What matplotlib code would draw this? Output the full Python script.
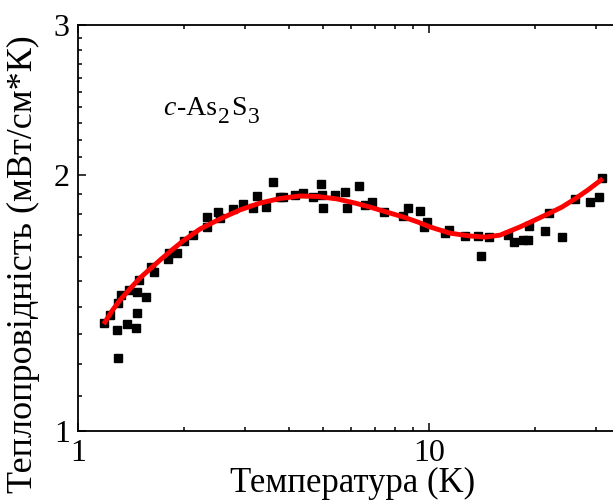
import matplotlib
matplotlib.use("Agg")
import matplotlib.pyplot as plt
from matplotlib.ticker import FixedLocator, FixedFormatter, MultipleLocator, NullFormatter, LogLocator

plt.rcParams["font.family"] = ["Liberation Serif", "DejaVu Serif"]

# measured points: temperature (K), thermal conductivity (mW/cm*K)
temp = [1.188, 1.233, 1.289, 1.303, 1.303, 1.323, 1.376, 1.400, 1.463, 1.475,
        1.475, 1.495, 1.562, 1.646, 1.611, 1.808, 1.820, 1.919, 2.004, 2.131,
        2.326, 2.335, 2.500, 2.539, 2.770, 2.958, 3.146, 3.243, 3.425, 3.587,
        3.763, 3.830, 4.151, 4.384, 4.663, 4.924, 4.947, 4.979, 5.398, 5.764,
        5.829, 6.318, 6.571, 6.894, 7.444, 8.417, 8.697, 9.427, 9.889, 9.697,
        11.40, 11.11, 12.66, 13.82, 14.85, 14.04, 16.83, 17.47, 18.57, 19.18,
        19.31, 21.41, 21.98, 23.88, 26.06, 28.75, 30.56, 31.05]
kappa = [1.339, 1.369, 1.314, 1.219, 1.413, 1.445, 1.335, 1.465, 1.320, 1.377,
         1.458, 1.504, 1.438, 1.539, 1.560, 1.593, 1.618, 1.618, 1.672, 1.699,
         1.786, 1.739, 1.810, 1.778, 1.822, 1.848, 1.826, 1.889, 1.835, 1.962,
         1.885, 1.882, 1.894, 1.903, 1.882, 1.951, 1.894, 1.826, 1.894, 1.908,
         1.826, 1.942, 1.843, 1.860, 1.810, 1.789, 1.829, 1.814, 1.762, 1.739,
         1.722, 1.707, 1.695, 1.695, 1.692, 1.607, 1.699, 1.669, 1.677, 1.677,
         1.742, 1.718, 1.805, 1.692, 1.872, 1.860, 1.882, 1.982]

# fitted curve
fit_t = [1.194, 1.250, 1.317, 1.406, 1.502, 1.604, 1.713, 1.852, 1.991, 2.226,
         2.539, 2.894, 3.300, 3.763, 4.290, 4.828, 5.469, 6.153, 6.790, 7.592,
         8.433, 9.305, 10.07, 11.48, 13.09, 14.44, 15.94, 18.16, 20.05, 22.12,
         23.92, 26.06, 28.38, 30.90]
fit_k = [1.343, 1.384, 1.425, 1.469, 1.513, 1.550, 1.588, 1.632, 1.672, 1.727,
         1.775, 1.819, 1.853, 1.876, 1.889, 1.886, 1.874, 1.853, 1.833, 1.808,
         1.785, 1.760, 1.737, 1.708, 1.695, 1.690, 1.699, 1.737, 1.770, 1.804,
         1.833, 1.874, 1.920, 1.972]

# sample label pieces: (text, style, is_subscript)
label_parts = [("c", "italic", False), ("-As", "normal", False), ("2", "normal", True),
               ("S", "normal", False), ("3", "normal", True)]

fig = plt.figure(figsize=(6.13, 5.03), dpi=100)
ax = fig.add_axes([0.1272, 0.1431, 0.9173, 0.8072])

ax.plot(temp, kappa, "s", color="black", markersize=6, zorder=2)
ax.plot(fit_t, fit_k, "-", color="#ff0000", linewidth=3.5, zorder=3)

ax.set_xscale("log")
ax.set_yscale("log")
ax.set_xlim(1, 40)
ax.set_ylim(1, 3)

ax.xaxis.set_major_locator(FixedLocator([1, 10]))
ax.xaxis.set_major_formatter(FixedFormatter(["1", "10"]))
ax.xaxis.set_minor_locator(LogLocator(base=10, subs=range(2, 10)))
ax.xaxis.set_minor_formatter(NullFormatter())
ax.yaxis.set_major_locator(FixedLocator([1, 2, 3]))
ax.yaxis.set_major_formatter(FixedFormatter(["1", "2", "3"]))
ax.yaxis.set_minor_locator(MultipleLocator(0.1))
ax.yaxis.set_minor_formatter(NullFormatter())

ax.tick_params(which="both", direction="in", top=True, right=True,
               labelsize=23, width=1.1)
ax.tick_params(which="major", length=6, pad=6)
ax.tick_params(which="minor", length=3)
for s in ax.spines.values():
    s.set_linewidth(1.3)

ax.set_xlabel("Температура (K)", fontsize=25)
ax.xaxis.set_label_coords(0.4875, -0.088)
ax.set_ylabel("Теплопровідність (мВт/см*К)", fontsize=26)
ax.yaxis.set_label_coords(-0.068, 0.41)

# c-As2S3 built piece by piece so subscripts stay large like the original
prev = ax.text(1.747, 2.351, label_parts[0][0], fontsize=20,
               style=label_parts[0][1], va="baseline")
for txt, sty, sub in label_parts[1:]:
    prev = ax.annotate(txt, xy=(1, 0), xycoords=prev,
                       xytext=(1, -5 if sub else (5 if prev.get_text() in "23" else 0)),
                       textcoords="offset points", fontsize=17 if sub else 20,
                       style=sty, va="bottom")

fig.savefig("out.png", dpi=100)
